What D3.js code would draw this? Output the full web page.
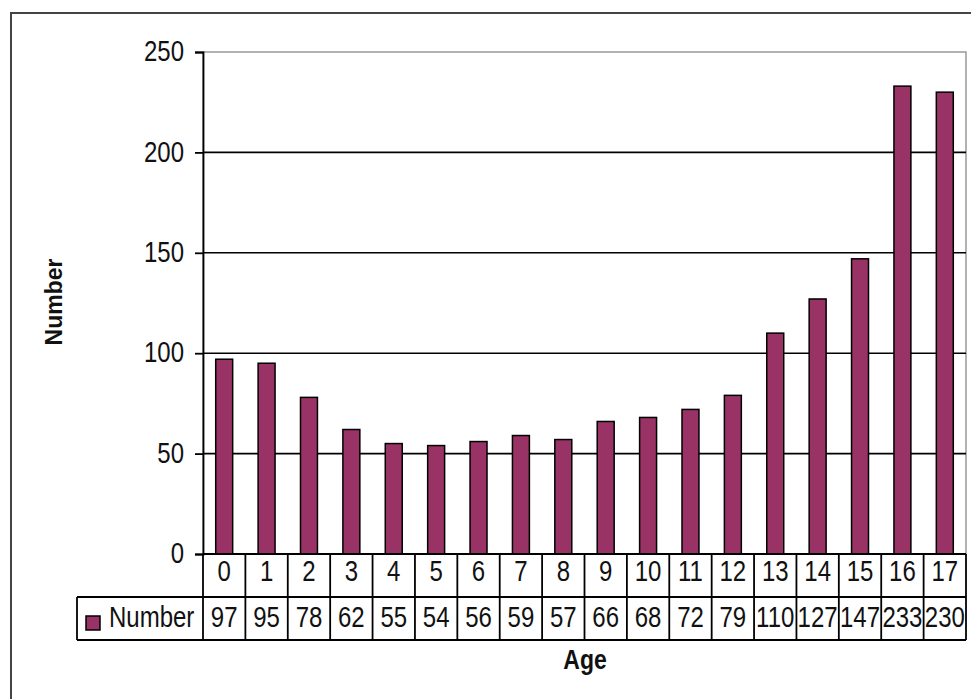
<!DOCTYPE html>
<html>
<head>
<meta charset="utf-8">
<script src="https://cdn.jsdelivr.net/npm/d3@7"></script>
<style>
  body { margin: 0; background: #fff; }
  svg { display: block; font-family: "Liberation Sans", Arial, sans-serif; }
</style>
</head>
<body>
<svg id="chart" width="971" height="699"></svg>
<script>
const ages = ["0","1","2","3","4","5","6","7","8","9","10","11","12","13","14","15","16","17"];
const numbers = [97, 95, 78, 62, 55, 54, 56, 59, 57, 66, 68, 72, 79, 110, 127, 147, 233, 230];
const yTicks = [0, 50, 100, 150, 200, 250];
const seriesName = "Number";

const svg = d3.select("#chart");
const plot = { left: 203, right: 966, top: 52, bottom: 554 };
const rowH = 43;
const legendLeft = 77;
const barColor = "#993366";
const stretch = 1.2;

// outer frame
svg.append("rect")
    .attr("x", 11).attr("y", 13)
    .attr("width", 990).attr("height", 720)
    .attr("fill", "none").attr("stroke", "#444").attr("stroke-width", 2);

const x = d3.scaleBand().domain(ages).range([plot.left, plot.right]).paddingInner(0.6).paddingOuter(0.3);
const cell = d3.scaleBand().domain(ages).range([plot.left, plot.right]).padding(0);
const y = d3.scaleLinear().domain([0, 250]).range([plot.bottom, plot.top]);

// plot border (gray top/right)
svg.append("rect")
    .attr("x", plot.left).attr("y", plot.top)
    .attr("width", plot.right - plot.left).attr("height", plot.bottom - plot.top)
    .attr("fill", "none").attr("stroke", "#999").attr("stroke-width", 1.5);

// gridlines
svg.append("g").selectAll("line")
    .data(yTicks.filter(d => d > 0 && d < 250))
    .enter().append("line")
    .attr("x1", plot.left).attr("x2", plot.right)
    .attr("y1", d => y(d)).attr("y2", d => y(d))
    .attr("stroke", "#000").attr("stroke-width", 1.6);

// bars
svg.append("g").selectAll("rect")
    .data(numbers)
    .enter().append("rect")
    .attr("x", (d, i) => x(ages[i]))
    .attr("y", d => y(d))
    .attr("width", x.bandwidth())
    .attr("height", d => y(0) - y(d))
    .attr("fill", barColor)
    .attr("stroke", "#000").attr("stroke-width", 1.5);

// y axis
const yAxis = d3.axisLeft(y).tickValues(yTicks).tickSize(8).tickPadding(11);
const yg = svg.append("g").attr("transform", `translate(${plot.left},0)`).call(yAxis);
yg.select(".domain").attr("stroke", "#000").attr("stroke-width", 1.8);
yg.selectAll(".tick line").attr("stroke", "#000").attr("stroke-width", 1.8);
yg.selectAll(".tick text")
    .attr("fill", "#111")
    .style("font-size", "24px")
    .attr("transform", `scale(1,${stretch})`)
    .attr("dy", "0.3em");

// data table
const table = svg.append("g").attr("stroke", "#000").attr("stroke-width", 1.8);
table.append("line").attr("x1", plot.left).attr("x2", plot.right).attr("y1", plot.bottom).attr("y2", plot.bottom);
table.append("line").attr("x1", legendLeft).attr("x2", plot.right).attr("y1", plot.bottom + rowH).attr("y2", plot.bottom + rowH);
table.append("line").attr("x1", legendLeft).attr("x2", plot.right).attr("y1", plot.bottom + 2 * rowH).attr("y2", plot.bottom + 2 * rowH);
table.append("line").attr("x1", legendLeft).attr("x2", legendLeft).attr("y1", plot.bottom + rowH).attr("y2", plot.bottom + 2 * rowH);
table.selectAll(".vline")
    .data(ages.concat(["end"]))
    .enter().append("line")
    .attr("class", "vline")
    .attr("x1", (d, i) => plot.left + i * cell.step())
    .attr("x2", (d, i) => plot.left + i * cell.step())
    .attr("y1", plot.bottom).attr("y2", plot.bottom + 2 * rowH);

function stretchedText(g, tx, ty, str, size, weight, anchor) {
    return g.append("text")
        .attr("transform", `translate(${tx},${ty}) scale(1,${stretch})`)
        .attr("text-anchor", anchor || "middle")
        .style("font-size", size + "px")
        .style("font-weight", weight || "normal")
        .attr("fill", "#111")
        .text(str);
}

const labels = svg.append("g");
ages.forEach((a, i) => {
    const cx = cell(a) + cell.bandwidth() / 2;
    stretchedText(labels, cx, plot.bottom + 27, a, 24);
    stretchedText(labels, cx, plot.bottom + rowH + 30, numbers[i], 24);
});

// legend key
svg.append("rect")
    .attr("x", 86).attr("y", 616).attr("width", 14).attr("height", 14)
    .attr("fill", barColor).attr("stroke", "#000").attr("stroke-width", 1.5);
stretchedText(labels, 109, plot.bottom + rowH + 30, seriesName, 24, "normal", "start");

// axis titles
stretchedText(svg, 585, 669, "Age", 23, "bold");
svg.append("text")
    .attr("transform", "translate(62,302) rotate(-90)")
    .attr("text-anchor", "middle")
    .style("font-size", "23px")
    .style("font-weight", "bold")
    .attr("fill", "#111")
    .text("Number");
</script>
</body>
</html>
